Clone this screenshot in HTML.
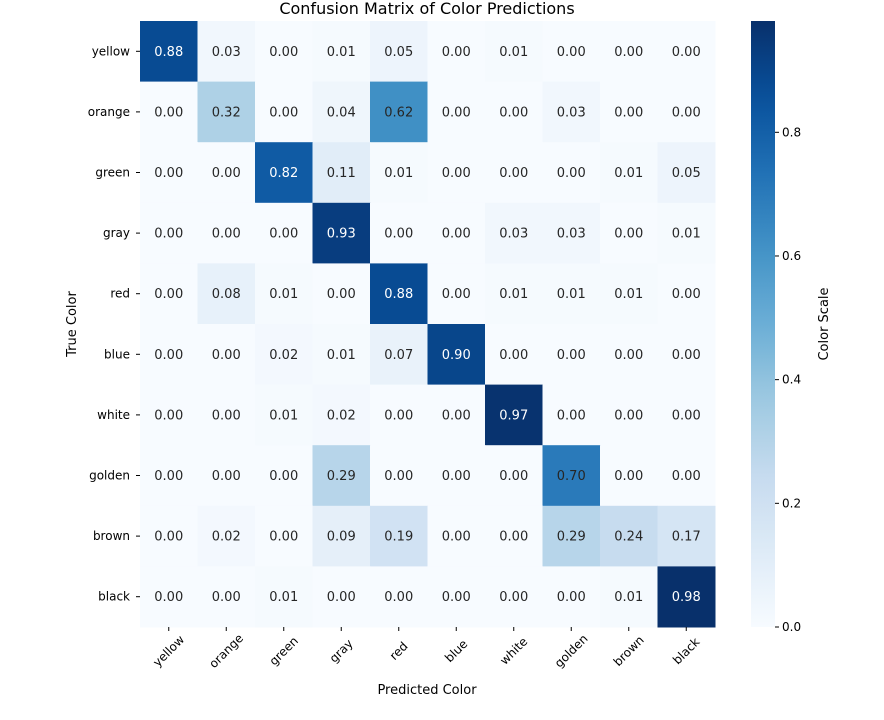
<!DOCTYPE html>
<html><head><meta charset="utf-8"><style>
body{margin:0;background:#fff;font-family:"DejaVu Sans","Liberation Sans",sans-serif;}
svg text{font-family:"DejaVu Sans","Liberation Sans",sans-serif;}
</style></head><body>
<svg id="chart" width="884" height="716" xmlns="http://www.w3.org/2000/svg">
<text x="427" y="14" text-anchor="middle" font-size="16" fill="#000">Confusion Matrix of Color Predictions</text>
<g id="cells"></g><g id="xt"></g><g id="yt"></g>
<defs><linearGradient id="cg" x1="0" y1="1" x2="0" y2="0" id2="g"></linearGradient></defs>
<rect x="751" y="21" width="24" height="606" fill="url(#cg)"/>
<g id="cbt"></g>
<text x="427" y="694" text-anchor="middle" font-size="13">Predicted Color</text>
<text transform="translate(76,324) rotate(-90)" text-anchor="middle" font-size="13">True Color</text>
<text transform="translate(828,324) rotate(-90)" text-anchor="middle" font-size="13">Color Scale</text>
</svg>
<script>
const labels=["yellow","orange","green","gray","red","blue","white","golden","brown","black"];
const values=[
[0.88,0.03,0.00,0.01,0.05,0.00,0.01,0.00,0.00,0.00],
[0.00,0.32,0.00,0.04,0.62,0.00,0.00,0.03,0.00,0.00],
[0.00,0.00,0.82,0.11,0.01,0.00,0.00,0.00,0.01,0.05],
[0.00,0.00,0.00,0.93,0.00,0.00,0.03,0.03,0.00,0.01],
[0.00,0.08,0.01,0.00,0.88,0.00,0.01,0.01,0.01,0.00],
[0.00,0.00,0.02,0.01,0.07,0.90,0.00,0.00,0.00,0.00],
[0.00,0.00,0.01,0.02,0.00,0.00,0.97,0.00,0.00,0.00],
[0.00,0.00,0.00,0.29,0.00,0.00,0.00,0.70,0.00,0.00],
[0.00,0.02,0.00,0.09,0.19,0.00,0.00,0.29,0.24,0.17],
[0.00,0.00,0.01,0.00,0.00,0.00,0.00,0.00,0.01,0.98]];
const cbTicks=[0,0.2,0.4,0.6,0.8];
const NS="http://www.w3.org/2000/svg";
const X0=140,X1=715,Y0=21,Y1=627;
const n=labels.length, cw=(X1-X0)/n, ch=(Y1-Y0)/n;
const vmax=Math.max(...values.flat()), vmin=0;
const stops=["#f7fbff","#deebf7","#c6dbef","#9ecae1","#6baed6","#4292c6","#2171b5","#08519c","#08306b"];
function hex(h){return [1,3,5].map(i=>parseInt(h.substr(i,2),16));}
function cmap(v){let t=Math.max(0,Math.min(1,(v-vmin)/(vmax-vmin)))*8;let i=Math.min(7,Math.floor(t)),f=t-i;
const a=hex(stops[i]),b=hex(stops[i+1]);const c=a.map((x,k)=>Math.round(x+(b[k]-x)*f));return {c:`rgb(${c})`,l:(0.299*c[0]+0.587*c[1]+0.114*c[2])/255};}
function mk(tag,at,p){const e=document.createElementNS(NS,tag);for(const k in at)e.setAttribute(k,at[k]);p.appendChild(e);return e;}
const cells=document.getElementById('cells');
values.forEach((row,r)=>row.forEach((v,c)=>{
 const col=cmap(v);
 const rc=mk('rect',{x:X0+c*cw,y:Y0+r*ch,width:cw+0.5,height:ch+0.5,fill:col.c},cells);
 
 
 const t=mk('text',{x:X0+(c+0.5)*cw,y:Y0+(r+0.5)*ch+4.5,'text-anchor':'middle','font-size':13,fill:col.l>0.408?'#262626':'#ffffff'},cells);
 t.textContent=v.toFixed(2);
 
 
}));
const xt=document.getElementById('xt'),yt=document.getElementById('yt');
labels.forEach((l,i)=>{
 const x=X0+(i+0.5)*cw;
 mk('line',{x1:x,x2:x,y1:Y1,y2:Y1+4,stroke:'#000'},xt);
 const t=mk('text',{transform:`translate(${x},${651}) rotate(-45)`,'text-anchor':'middle','font-size':12,dy:4},xt);
 t.textContent=l;
 
 
 const y=Y0+(i+0.5)*ch;
 mk('line',{x1:X0-4,x2:X0,y1:y,y2:y,stroke:'#000'},yt);
 const u=mk('text',{x:X0-10,y:y+4,'text-anchor':'end','font-size':12},yt);
 u.textContent=l;
 
 
});
const g=document.getElementById('cg');
for(let i=0;i<=20;i++){mk('stop',{offset:i/20,'stop-color':cmap(vmin+(vmax-vmin)*i/20).c},g);}
const cbt=document.getElementById('cbt');
cbTicks.forEach(v=>{
 const y=Y1-(v-vmin)/(vmax-vmin)*(Y1-Y0);
 mk('line',{x1:775,x2:779,y1:y,y2:y,stroke:'#000'},cbt);
 const t=mk('text',{x:782,y:y+4,'font-size':12},cbt);
 t.textContent=v.toFixed(1);
 
 
});
</script>
</body></html>
